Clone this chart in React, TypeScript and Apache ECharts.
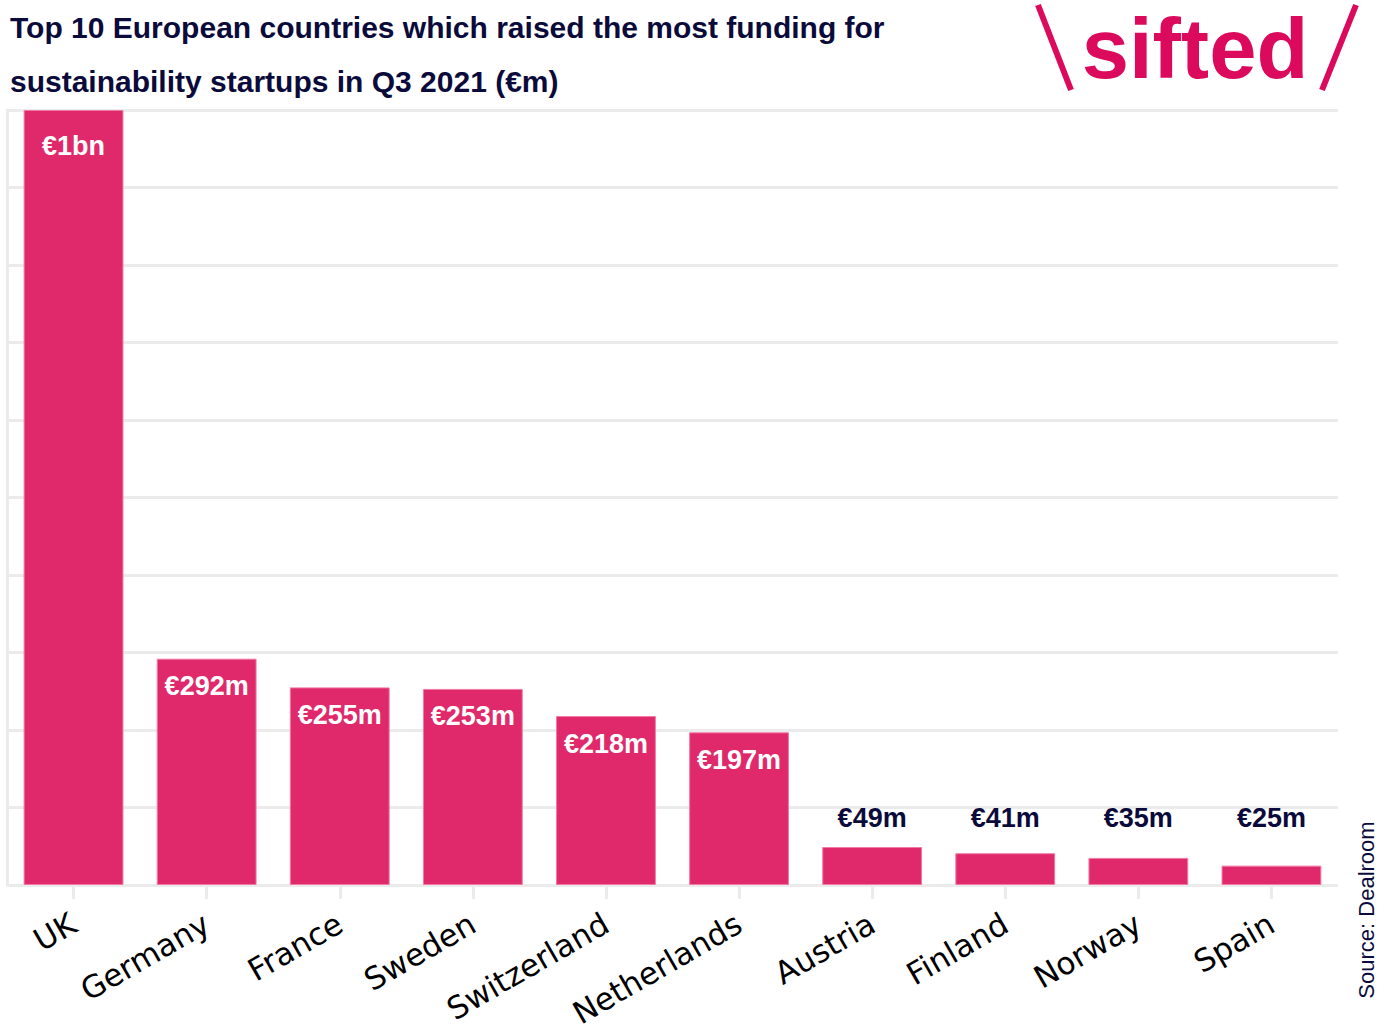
import React, { useEffect, useRef } from "react";
import * as echarts from "echarts";

const countries = ["UK", "Germany", "France", "Sweden", "Switzerland", "Netherlands", "Austria", "Finland", "Norway", "Spain"];
const funding = [1000, 292, 255, 253, 218, 197, 49, 41, 35, 25];
const valueLabels = ["€1bn", "€292m", "€255m", "€253m", "€218m", "€197m", "€49m", "€41m", "€35m", "€25m"];
const insideCount = 6;

const TITLE = "Top 10 European countries which raised the most funding for\nsustainability startups in Q3 2021 (€m)";
const NAVY = "#0b0b3b";
const PINK = "#e0296b";
const LOGO = "#dc0a5c";
const LABEL_FONT = 27;

export default function App() {
  const ref = useRef<HTMLDivElement>(null);
  useEffect(() => {
    if (!ref.current) return;
    const chart = echarts.init(ref.current, null, { renderer: "svg" });

    const buildData = (outsideDistances: number[] | null) =>
      funding.map((v, i) => {
        const inside = i < insideCount;
        return {
          value: v,
          label: {
            show: true,
            formatter: valueLabels[i],
            position: inside ? "insideTop" : "top",
            distance: inside ? (i === 0 ? 22 : 14) : outsideDistances ? outsideDistances[i] : 16,
            color: inside ? "#ffffff" : NAVY,
            fontFamily: "Liberation Sans",
            fontWeight: "bold",
            fontSize: LABEL_FONT,
          },
        };
      });

    chart.setOption({
      animation: false,
      backgroundColor: "#ffffff",
      grid: { left: 7, right: 48, top: 110, bottom: 147, containLabel: false },
      xAxis: {
        type: "category",
        data: countries,
        axisLine: { show: false },
        axisTick: { show: true, alignWithLabel: true, length: 14, lineStyle: { color: "#ebebeb", width: 3 } },
        axisLabel: {
          rotate: 30,
          margin: 36,
          color: "#000000",
          fontFamily: "DejaVu Sans",
          fontSize: 31,
          interval: 0,
        },
      },
      yAxis: {
        type: "value",
        min: 0,
        max: 1000,
        interval: 100,
        axisLabel: { show: false },
        axisLine: { show: true, lineStyle: { color: "#ebebeb", width: 3 } },
        axisTick: { show: false },
        splitLine: { show: true, lineStyle: { color: "#ebebeb", width: 3 } },
      },
      series: [
        {
          type: "bar",
          data: buildData(null),
          barWidth: "75%",
          itemStyle: { color: PINK, borderColor: "#f07aa3", borderWidth: 1 },
        },
      ],
      graphic: [
        {
          type: "text",
          left: 10,
          top: 0,
          style: {
            text: TITLE,
            fill: NAVY,
            font: "bold 30px 'Liberation Sans'",
            lineHeight: 54,
          },
        },
        {
          type: "line",
          shape: { x1: 1038, y1: 5, x2: 1071, y2: 90 },
          style: { stroke: LOGO, lineWidth: 6 },
        },
        {
          type: "line",
          shape: { x1: 1356, y1: 5, x2: 1322, y2: 90 },
          style: { stroke: LOGO, lineWidth: 6 },
        },
        {
          type: "text",
          x: 1195,
          y: 48,
          style: {
            text: "sifted",
            fill: LOGO,
            font: "bold 85px 'Liberation Sans'",
            lineHeight: 90,
            textAlign: "center",
            textVerticalAlign: "middle",
          },
        },
        {
          type: "text",
          x: 1366,
          y: 910,
          rotation: Math.PI / 2,
          style: {
            text: "Source: Dealroom",
            fill: NAVY,
            font: "22px 'Liberation Sans'",
            textAlign: "center",
            textVerticalAlign: "middle",
          },
        },
      ],
    });

    // The small bars' labels share one baseline, level with the tallest of them
    const smallMax = Math.max(...funding.slice(insideCount));
    const topOfMax = chart.convertToPixel({ gridIndex: 0 }, [0, smallMax])[1];
    const dists = funding.map((v) => {
      const y = chart.convertToPixel({ gridIndex: 0 }, [0, v])[1];
      return 16 + (y - topOfMax);
    });
    chart.setOption({ series: [{ data: buildData(dists) }] });

    return () => chart.dispose();
  }, []);
  return <div ref={ref} style={{ position: "absolute", left: 0, top: 0, width: 1386, height: 1032 }} />;
}
